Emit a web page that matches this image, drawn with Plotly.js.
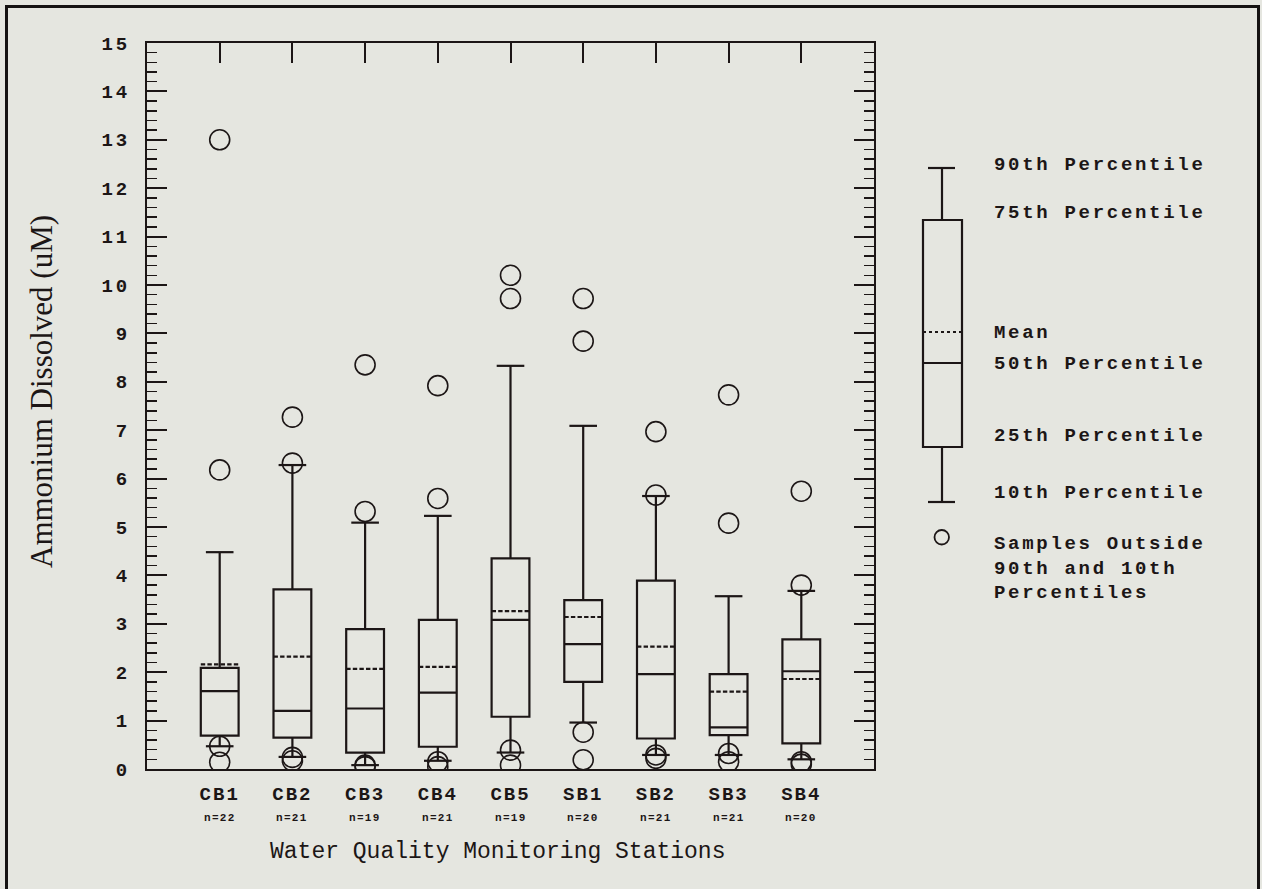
<!DOCTYPE html>
<html>
<head>
<meta charset="utf-8">
<script src="https://cdn.plot.ly/plotly-3.0.1.min.js"></script>
<style>
  html, body { margin: 0; padding: 0; background: #e5e6e0; }
  #wrap { position: relative; width: 1262px; height: 889px; overflow: hidden; }
  #chart { position: absolute; left: 0; top: 0; width: 1262px; height: 889px; }
  #frame { position: absolute; left: 5px; top: 5px; width: 1249px; height: 920px;
           border: 3px solid #151212; pointer-events: none; }
</style>
</head>
<body>
<div id="wrap">
  <div id="chart"></div>
  <div id="frame"></div>
</div>
<script>
// ---- data ----
const stations = ['CB1', 'CB2', 'CB3', 'CB4', 'CB5', 'SB1', 'SB2', 'SB3', 'SB4'];
const sampleCounts = [22, 21, 19, 21, 19, 20, 21, 21, 20];
const p10    = [0.47, 0.25, 0.08, 0.17, 0.34, 0.96, 0.29, 0.29, 0.20];
const p25    = [0.69, 0.65, 0.34, 0.46, 1.08, 1.80, 0.63, 0.70, 0.53];
const p50    = [1.61, 1.20, 1.25, 1.58, 3.08, 2.58, 1.96, 0.86, 2.02];
const means  = [2.16, 2.32, 2.07, 2.11, 3.26, 3.14, 2.53, 1.60, 1.86];
const p75    = [2.09, 3.71, 2.89, 3.08, 4.35, 3.49, 3.89, 1.96, 2.68];
const p90    = [4.48, 6.28, 5.09, 5.23, 8.33, 7.09, 5.64, 3.57, 3.68];
const outliers = [
  [13.0, 6.18, 0.47, 0.14],
  [7.27, 6.32, 0.24, 0.17],
  [8.35, 5.32, 0.08, 0.05],
  [7.92, 5.59, 0.15, 0.05],
  [10.2, 9.72, 0.39, 0.08],
  [9.72, 8.84, 0.76, 0.19],
  [6.97, 5.66, 0.29, 0.22],
  [7.73, 5.08, 0.32, 0.15],
  [5.74, 3.80, 0.15, 0.10]
];
const yTickVals = [0, 1, 2, 3, 4, 5, 6, 7, 8, 9, 10, 11, 12, 13, 14, 15];
const legendLabels = ['90th Percentile', '75th Percentile', 'Mean', '50th Percentile',
                      '25th Percentile', '10th Percentile',
                      'Samples Outside<br>90th and 10th<br>Percentiles'];

// ---- styling ----
const INK = '#1c1616';
const BG = '#e5e6e0';
const positions = stations.map((_, i) => i + 1);
const capHalf = 0.19;

function ls(t, sp) { return '<span style="letter-spacing:' + sp + 'px">' + t + '</span>'; }

// whisker caps built from the percentile arrays
const capX = [], capY = [];
positions.forEach((p, i) => {
  [p90[i], p10[i]].forEach(v => {
    capX.push(p - capHalf, p + capHalf, null);
    capY.push(v, v, null);
  });
});
const outX = [], outY = [];
outliers.forEach((arr, i) => arr.forEach(v => { outX.push(positions[i]); outY.push(v); }));

const traces = [
  {
    type: 'box',
    x: positions,
    q1: p25, median: p50, q3: p75,
    lowerfence: p10, upperfence: p90,
    mean: means,
    boxmean: true,
    boxpoints: false,
    width: 0.52,
    line: { color: INK, width: 2.2 },
    fillcolor: 'rgba(0,0,0,0)',
    whiskerwidth: 0,
    showlegend: false,
    hoverinfo: 'y'
  },
  {
    type: 'scatter', mode: 'lines',
    x: capX, y: capY,
    line: { color: INK, width: 2.2 },
    showlegend: false, hoverinfo: 'skip', connectgaps: false
  },
  {
    type: 'scatter', mode: 'markers',
    x: outX, y: outY,
    marker: { symbol: 'circle-open', size: 20, color: INK, line: { width: 1.6, color: INK } },
    showlegend: false, hoverinfo: 'y'
  },
  {
    type: 'scatter', mode: 'markers', x: [1], y: [0], xaxis: 'x2',
    marker: { opacity: 0 }, showlegend: false, hoverinfo: 'skip'
  }
];

// pixel helpers for legend drawing (plot area: x 147..874, y 43..769)
const L = 147, R = 874, T = 43, B = 769;
const px = x => (x - L) / (R - L);
const py = y => (B - y) / (B - T);

const shapes = [
  // legend example box
  { type: 'rect', xref: 'paper', yref: 'paper', x0: px(923), x1: px(962), y0: py(220), y1: py(447), line: { color: INK, width: 2.2 } },
  { type: 'line', xref: 'paper', yref: 'paper', x0: px(923), x1: px(962), y0: py(363), y1: py(363), line: { color: INK, width: 2.2 } },
  { type: 'line', xref: 'paper', yref: 'paper', x0: px(923), x1: px(962), y0: py(332), y1: py(332), line: { color: INK, width: 2, dash: 'dot' } },
  { type: 'line', xref: 'paper', yref: 'paper', x0: px(942), x1: px(942), y0: py(168), y1: py(220), line: { color: INK, width: 2.2 } },
  { type: 'line', xref: 'paper', yref: 'paper', x0: px(942), x1: px(942), y0: py(447), y1: py(502), line: { color: INK, width: 2.2 } },
  { type: 'line', xref: 'paper', yref: 'paper', x0: px(928), x1: px(955), y0: py(168), y1: py(168), line: { color: INK, width: 2.2 } },
  { type: 'line', xref: 'paper', yref: 'paper', x0: px(928), x1: px(955), y0: py(502), y1: py(502), line: { color: INK, width: 2.2 } },
  { type: 'circle', xref: 'paper', yref: 'paper', x0: px(934.5), x1: px(949), y0: py(530), y1: py(544.5), line: { color: INK, width: 1.8 } }
];

const legendY = [165, 213, 333, 364, 436, 493, 568];
const legendFont = { family: 'Liberation Mono, DejaVu Sans Mono, monospace', size: 19, color: INK, weight: 'bold' };
const annotations = legendLabels.map((t, i) => ({
  xref: 'paper', yref: 'paper', x: px(992), y: py(legendY[i]),
  xanchor: 'left', yanchor: 'middle', align: 'left', showarrow: false,
  text: ls(t, 2.7), font: legendFont
}));

sampleCounts.forEach((n, i) => annotations.push({
  xref: 'x', yref: 'paper', x: positions[i], y: py(818),
  xanchor: 'center', yanchor: 'middle', showarrow: false,
  text: ls('n=' + n, 1.3),
  font: { family: 'Liberation Mono, DejaVu Sans Mono, monospace', size: 11, color: INK, weight: 'bold' }
}));

annotations.push({
  xref: 'paper', yref: 'paper', x: px(497), y: py(852),
  xanchor: 'center', yanchor: 'middle', showarrow: false,
  text: 'Water Quality Monitoring Stations',
  font: { family: 'Liberation Mono, monospace', size: 23, color: INK }
});
annotations.push({
  xref: 'paper', yref: 'paper', x: px(41), y: py(392),
  xanchor: 'center', yanchor: 'middle', showarrow: false, textangle: -90,
  text: 'Ammonium Dissolved (uM)',
  font: { family: 'Liberation Serif, serif', size: 31, color: INK }
});

const layout = {
  width: 1262, height: 889,
  margin: { l: L, r: 1262 - R, t: T, b: 889 - B, pad: 0 },
  paper_bgcolor: BG, plot_bgcolor: BG,
  showlegend: false,
  xaxis: {
    range: [0, 10], tickvals: positions,
    ticktext: stations.map(s => ls('<b>' + s + '</b>', 2)),
    ticks: '', showgrid: false, zeroline: false,
    showline: true, linecolor: INK, linewidth: 2, mirror: false,
    tickfont: { family: 'Liberation Mono, DejaVu Sans Mono, monospace', size: 19, color: INK },
    ticklabelstandoff: 6
  },
  xaxis2: {
    overlaying: 'x', side: 'top', range: [0, 10], tickvals: positions,
    ticks: 'inside', ticklen: 20, tickwidth: 2, tickcolor: INK,
    showticklabels: false, showgrid: false, zeroline: false,
    showline: true, linecolor: INK, linewidth: 2
  },
  yaxis: {
    range: [0, 15],
    tickmode: 'array', tickvals: yTickVals,
    ticktext: yTickVals.map(v => ls(String(v), 3)),
    ticks: 'inside', ticklen: 20, tickwidth: 2, tickcolor: INK,
    minor: { dtick: 0.2, ticks: 'inside', ticklen: 10, tickwidth: 1.5, tickcolor: INK, showgrid: false },
    showgrid: false, zeroline: false,
    showline: true, linecolor: INK, linewidth: 2, mirror: 'ticks',
    tickfont: { family: 'Liberation Mono, DejaVu Sans Mono, monospace', size: 19, color: INK, weight: 'bold' },
    ticklabelstandoff: 11
  },
  shapes: shapes,
  annotations: annotations
};

Plotly.newPlot('chart', traces, layout, { displayModeBar: false, staticPlot: true });
</script>
</body>
</html>
